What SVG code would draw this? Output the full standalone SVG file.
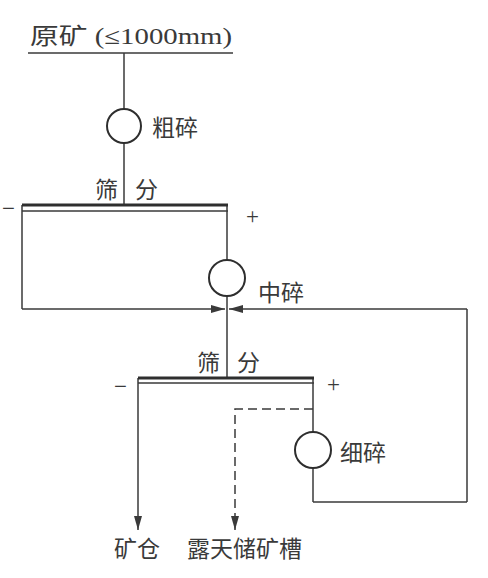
<svg xmlns="http://www.w3.org/2000/svg" width="488" height="578" viewBox="0 0 488 578">
<style>
.ln{stroke:#3a3a3a;stroke-width:1.5;fill:none}
.scr{stroke:#2e2e2e;stroke-width:3;fill:none}
.c{stroke:#2e2e2e;stroke-width:2;fill:#fff}
.t{font-family:"Liberation Serif","Noto Sans CJK SC",serif;font-size:23px;fill:#3a3a3a}
.dash{stroke-dasharray:9,5}
</style>
<defs>
<marker id="ah" viewBox="0 0 14 8" refX="14" refY="4" markerWidth="14" markerHeight="8" markerUnits="userSpaceOnUse" orient="auto">
<path d="M0,0 L14,4 L0,8 Z" fill="#3a3a3a"/>
</marker>
</defs>
<rect width="488" height="578" fill="#fff"/>
<g id="connectors">
<line class="ln" x1="28" y1="53" x2="233" y2="53"/>
<line class="ln" x1="124" y1="53" x2="124" y2="205"/>
<line class="ln" x1="22" y1="205" x2="22" y2="309"/>
<line class="ln" x1="22" y1="309" x2="225" y2="309" marker-end="url(#ah)"/>
<line class="ln" x1="227" y1="205" x2="227" y2="378"/>
<line class="ln" x1="467" y1="309" x2="229" y2="309" marker-end="url(#ah)"/>
<line class="ln" x1="467" y1="309" x2="467" y2="502"/>
<line class="ln" x1="313" y1="502" x2="467" y2="502"/>
<line class="ln" x1="313" y1="378" x2="313" y2="502"/>
<line class="ln" x1="138" y1="378" x2="138" y2="530" marker-end="url(#ah)"/>
<polyline class="ln dash" points="313,409 235,409 235,530" marker-end="url(#ah)"/>
</g>
<g id="raw-ore">
<text class="t" x="30" y="44" textLength="202" lengthAdjust="spacingAndGlyphs">原矿 (≤1000mm)</text>
</g>
<g id="coarse-crush">
<circle class="c" cx="124" cy="126" r="17"/>
<text class="t" x="152" y="136">粗碎</text>
</g>
<g id="screen1">
<line class="scr" x1="22" y1="205" x2="228" y2="205"/>
<line class="ln" x1="22" y1="211" x2="228" y2="211"/>
<text class="t" x="95" y="198">筛</text>
<text class="t" x="135" y="198">分</text>
<text class="t" x="2" y="216">−</text>
<text class="t" x="246" y="224">+</text>
</g>
<g id="medium-crush">
<circle class="c" cx="227" cy="278" r="18"/>
<text class="t" x="258" y="301">中碎</text>
</g>
<g id="screen2">
<line class="scr" x1="138" y1="378" x2="314" y2="378"/>
<line class="ln" x1="138" y1="383" x2="314" y2="383"/>
<text class="t" x="197" y="371">筛</text>
<text class="t" x="237" y="371">分</text>
<text class="t" x="114" y="394">−</text>
<text class="t" x="327" y="392">+</text>
</g>
<g id="fine-crush">
<circle class="c" cx="313" cy="450" r="18"/>
<text class="t" x="340" y="461">细碎</text>
</g>
<g id="ore-bin">
<text class="t" x="114" y="557">矿仓</text>
</g>
<g id="open-bin">
<text class="t" x="187" y="557">露天储矿槽</text>
</g>
</svg>
